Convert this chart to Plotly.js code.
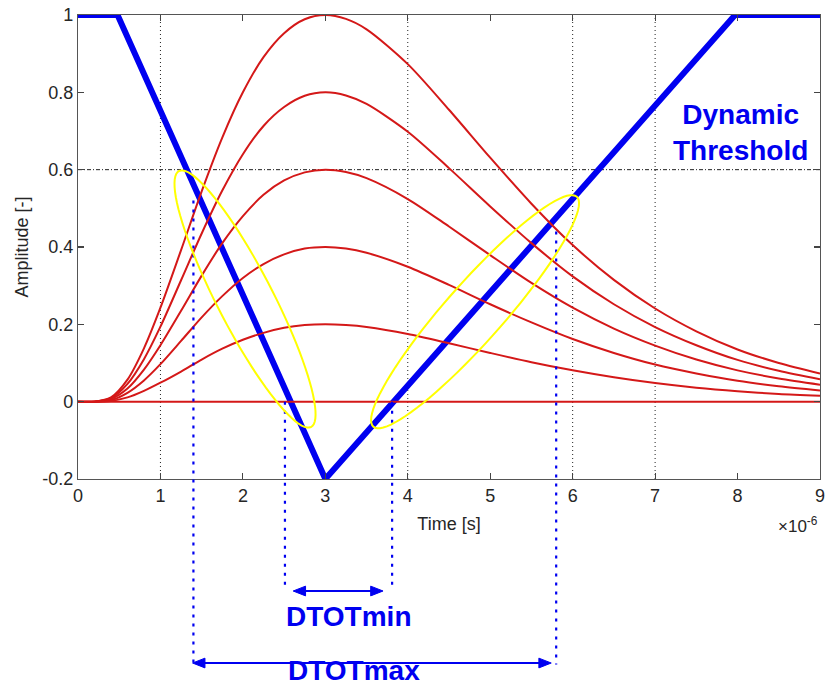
<!DOCTYPE html>
<html><head><meta charset="utf-8">
<script src="https://cdn.plot.ly/plotly-3.0.1.min.js"></script>
<style>html,body{margin:0;padding:0;background:#fff;}#chart{width:827px;height:688px;}</style>
</head><body><div id="chart"></div>
<script>
// time axis (units of 1e-6 s)
const timeUs = [0, 0.2, 0.4, 0.6, 0.8, 1.0, 1.25, 1.5, 1.75, 2.0, 2.25, 2.5, 2.75, 3.0, 3.25, 3.5, 4.0, 4.5, 5.0, 5.5, 6.0, 6.5, 7.0, 7.5, 8.0, 8.5, 9.0];
// red pulses (peak amplitudes 1, 0.8, 0.6, 0.4, 0.2, 0)
const pulse10 = [0, 0, 0.011, 0.057, 0.138, 0.243, 0.392, 0.544, 0.683, 0.800, 0.891, 0.953, 0.989, 1.000, 0.990, 0.963, 0.873, 0.755, 0.631, 0.512, 0.405, 0.315, 0.241, 0.182, 0.135, 0.100, 0.073];
const pulse08 = [0, 0, 0.009, 0.046, 0.110, 0.194, 0.314, 0.435, 0.546, 0.640, 0.713, 0.762, 0.791, 0.800, 0.792, 0.770, 0.698, 0.604, 0.505, 0.410, 0.324, 0.252, 0.193, 0.146, 0.108, 0.080, 0.058];
const pulse06 = [0, 0, 0.007, 0.034, 0.083, 0.146, 0.235, 0.326, 0.410, 0.480, 0.535, 0.572, 0.593, 0.600, 0.594, 0.578, 0.524, 0.453, 0.379, 0.307, 0.243, 0.189, 0.145, 0.109, 0.081, 0.060, 0.044];
const pulse04 = [0, 0, 0.004, 0.023, 0.055, 0.097, 0.157, 0.218, 0.273, 0.320, 0.356, 0.381, 0.396, 0.400, 0.396, 0.385, 0.349, 0.302, 0.252, 0.205, 0.162, 0.126, 0.096, 0.073, 0.054, 0.040, 0.029];
const pulse02 = [0, 0, 0.002, 0.011, 0.028, 0.049, 0.078, 0.109, 0.137, 0.160, 0.178, 0.191, 0.198, 0.200, 0.198, 0.193, 0.175, 0.151, 0.126, 0.102, 0.081, 0.063, 0.048, 0.036, 0.027, 0.020, 0.015];
const pulse00 = [0, 0, 0, 0, 0, 0, 0, 0, 0, 0, 0, 0, 0, 0, 0, 0, 0, 0, 0, 0, 0, 0, 0, 0, 0, 0, 0];
// dynamic threshold
const thresholdT = [0, 0.48, 3.0, 7.97, 9.0];
const thresholdV = [1, 1, -0.2, 1, 1];
// ticks
const xTickVals = [0, 1, 2, 3, 4, 5, 6, 7, 8, 9];
const xTickText = ['0', '1', '2', '3', '4', '5', '6', '7', '8', '9'];
const yTickVals = [-0.2, 0, 0.2, 0.4, 0.6, 0.8, 1];
const yTickText = ['-0.2', '0', '0.2', '0.4', '0.6', '0.8', '1'];
// visible dotted grid lines
const gridX = [1, 4, 6, 7];
const gridY = [0.6];
// DTOT marker lines
const dtotT = [1.40, 2.51, 3.81, 5.80];
const dtotTop = [0.52, 0, 0, 0.44];
const dtotBottomPaper = [-0.40, -0.228, -0.228, -0.40];
// DTOT arrows
const arrowStart = [2.61, 1.39];
const arrowEnd = [3.70, 5.74];
const arrowYPaper = [-0.2414, -0.3966];
const labelText = ['DTOTmin', 'DTOTmax'];
const labelX = [3.287, 3.35];
const labelYPaper = [-0.297, -0.412];
// yellow ellipses (center, semi-diameter vectors in data units)
const ellCx = [2.026, 4.816];
const ellCy = [0.2655, 0.2327];
const ellUx = [0.8006, 1.2336];
const ellUy = [-0.3310, 0.2974];
const ellVx = [0.302, 0.2633];
const ellVy = [0.0331, -0.0497];

const X_RANGE = [0, 9];
const Y_RANGE = [-0.2, 1];
const FONT = 'Liberation Sans, Arial, Helvetica, sans-serif';
const RED = '#d41818';
const BLUE = '#0000f0';
const HEAD_LEN = 0.15;   // arrow head length (x data units)
const HEAD_HALF = 0.0105; // arrow head half height (paper units)

const traces = [];
traces.push({x: thresholdT, y: thresholdV, type: 'scatter', mode: 'lines',
  line: {color: BLUE, width: 6}, cliponaxis: false, hoverinfo: 'skip'});
[pulse10, pulse08, pulse06, pulse04, pulse02, pulse00].forEach(p => {
  traces.push({x: timeUs, y: p, type: 'scatter', mode: 'lines',
    line: {color: RED, width: 2, shape: 'spline', smoothing: 0.8}, hoverinfo: 'skip'});
});

const shapes = [];
gridX.forEach(v => shapes.push({type: 'line', xref: 'x', yref: 'y', x0: v, x1: v, y0: Y_RANGE[0], y1: Y_RANGE[1],
  line: {color: '#222', width: 1, dash: '1px,3px'}, layer: 'below'}));
gridY.forEach(v => shapes.push({type: 'line', xref: 'x', yref: 'y', x0: X_RANGE[0], x1: X_RANGE[1], y0: v, y1: v,
  line: {color: '#222', width: 1, dash: '4px,2px,1px,2px'}, layer: 'below'}));
const toPaperY = v => (v - Y_RANGE[0]) / (Y_RANGE[1] - Y_RANGE[0]);
dtotT.forEach((t, i) => shapes.push({type: 'line', xref: 'x', yref: 'paper', x0: t, x1: t,
  y0: toPaperY(dtotTop[i]), y1: dtotBottomPaper[i],
  line: {color: BLUE, width: 2.2, dash: '3px,6px'}}));
ellCx.forEach((cx, i) => {
  let d = '';
  const n = 90;
  for (let k = 0; k <= n; k++) {
    const a = 2 * Math.PI * k / n;
    const px = cx + Math.cos(a) * ellUx[i] + Math.sin(a) * ellVx[i];
    const py = ellCy[i] + Math.cos(a) * ellUy[i] + Math.sin(a) * ellVy[i];
    d += (k === 0 ? 'M' : 'L') + px.toFixed(4) + ',' + py.toFixed(4);
  }
  d += 'Z';
  shapes.push({type: 'path', xref: 'x', yref: 'y', path: d, line: {color: '#ffff00', width: 2}});
});
// double-headed arrows
arrowStart.forEach((s, i) => {
  const e = arrowEnd[i], y = arrowYPaper[i];
  shapes.push({type: 'line', xref: 'x', yref: 'paper', x0: s + HEAD_LEN * 0.5, x1: e - HEAD_LEN * 0.5, y0: y, y1: y,
    line: {color: BLUE, width: 2}});
  shapes.push({type: 'path', xref: 'x', yref: 'paper', fillcolor: BLUE, line: {color: BLUE, width: 1},
    path: 'M' + s + ',' + y + 'L' + (s + HEAD_LEN) + ',' + (y + HEAD_HALF) + 'L' + (s + HEAD_LEN) + ',' + (y - HEAD_HALF) + 'Z'});
  shapes.push({type: 'path', xref: 'x', yref: 'paper', fillcolor: BLUE, line: {color: BLUE, width: 1},
    path: 'M' + e + ',' + y + 'L' + (e - HEAD_LEN) + ',' + (y + HEAD_HALF) + 'L' + (e - HEAD_LEN) + ',' + (y - HEAD_HALF) + 'Z'});
});

const annotations = [];
labelText.forEach((t, i) => annotations.push({
  xref: 'x', yref: 'paper', x: labelX[i], y: labelYPaper[i], text: '<b>' + t + '</b>',
  showarrow: false, font: {family: FONT, size: 28, color: BLUE}, xanchor: 'center', yanchor: 'middle'}));
annotations.push({xref: 'x', yref: 'y', x: 8.03, y: 0.695, text: '<b>Dynamic<br>Threshold</b>',
  showarrow: false, font: {family: FONT, size: 28, color: BLUE}, xanchor: 'center', yanchor: 'middle'});
annotations.push({xref: 'paper', yref: 'paper', x: 1.0, y: -0.1, text: '\u00d710<sup>-6</sup>',
  showarrow: false, font: {family: FONT, size: 17, color: '#262626'}, xanchor: 'right', yanchor: 'middle'});

const axisCommon = {
  showline: true, linecolor: '#555', linewidth: 1.2, mirror: 'ticks',
  ticks: 'inside', ticklen: 6, tickcolor: '#444', tickwidth: 1.2,
  showgrid: false, zeroline: false,
  tickfont: {family: FONT, size: 18, color: '#262626'}
};

const layout = {
  width: 827, height: 688,
  margin: {l: 78, r: 7, t: 15, b: 209},
  paper_bgcolor: '#fff', plot_bgcolor: '#fff',
  showlegend: false,
  xaxis: Object.assign({}, axisCommon, {range: X_RANGE, tickmode: 'array', tickvals: xTickVals, ticktext: xTickText,
    title: {text: 'Time [s]', font: {family: FONT, size: 18, color: '#262626'}, standoff: 12}}),
  yaxis: Object.assign({}, axisCommon, {range: Y_RANGE, tickmode: 'array', tickvals: yTickVals, ticktext: yTickText,
    title: {text: 'Amplitude [-]', font: {family: FONT, size: 18, color: '#262626'}, standoff: 8}}),
  shapes: shapes,
  annotations: annotations
};

Plotly.newPlot('chart', traces, layout, {staticPlot: true, displayModeBar: false});
</script></body></html>
